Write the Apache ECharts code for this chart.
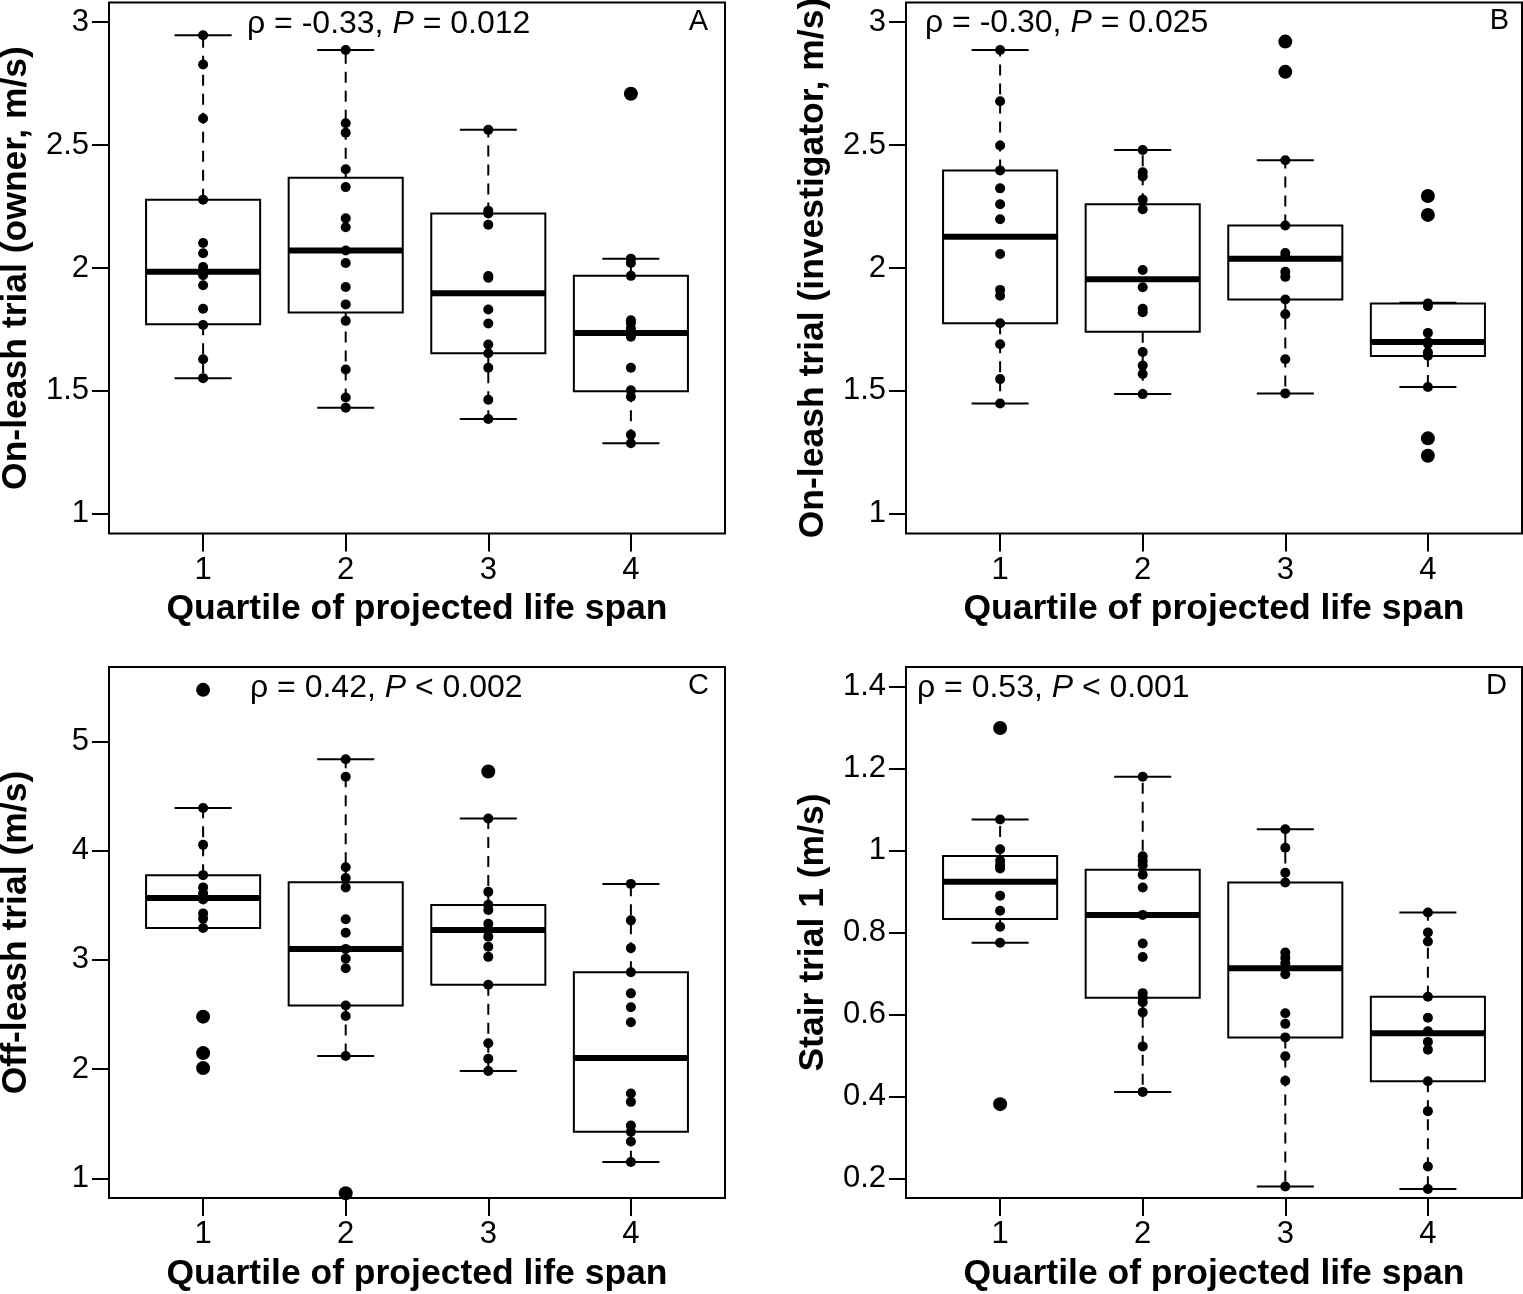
<!DOCTYPE html>
<html>
<head>
<meta charset="utf-8">
<script src="https://cdn.jsdelivr.net/npm/echarts@6/dist/echarts.min.js"></script>
<style>
html,body{margin:0;padding:0;background:#fff;}
#chart{width:1523px;height:1294px;}
</style>
</head>
<body>
<div id="chart"></div>
<script>
// ---------- data ----------
const QUARTILES = [1, 2, 3, 4];
const X_LABEL = 'Quartile of projected life span';

// Panel A: On-leash trial (owner)
const A_q1 = [2.947, 2.828, 2.608, 2.278, 2.102, 2.060, 2.004, 1.985, 1.971, 1.930, 1.834, 1.768, 1.629, 1.552];
const A_q2 = [2.887, 2.589, 2.550, 2.402, 2.329, 2.202, 2.166, 2.071, 2.020, 1.923, 1.852, 1.785, 1.587, 1.473, 1.432];
const A_q3 = [2.562, 2.233, 2.222, 2.176, 1.967, 1.960, 1.831, 1.774, 1.689, 1.653, 1.594, 1.464, 1.386];
const A_q4 = [2.709, 2.038, 2.020, 1.968, 1.787, 1.776, 1.755, 1.736, 1.720, 1.594, 1.503, 1.476, 1.322, 1.287];
// box stats: [lower whisker, Q1, median, Q3, upper whisker]
const A_box = [
  [1.552, 1.771, 1.985, 2.278, 2.947],
  [1.432, 1.819, 2.071, 2.367, 2.887],
  [1.386, 1.653, 1.897, 2.222, 2.562],
  [1.287, 1.499, 1.736, 1.968, 2.038]
];
const A_out = [[4, 2.709]];

// Panel B: On-leash trial (investigator)
const B_q1 = [2.887, 2.678, 2.498, 2.397, 2.324, 2.259, 2.198, 2.057, 1.911, 1.887, 1.775, 1.690, 1.548, 1.449];
const B_q2 = [2.480, 2.389, 2.372, 2.278, 2.239, 1.992, 1.922, 1.834, 1.820, 1.658, 1.603, 1.569, 1.487];
const B_q3 = [2.921, 2.798, 2.438, 2.173, 2.061, 2.047, 1.985, 1.964, 1.872, 1.812, 1.629, 1.490];
const B_q4 = [2.293, 2.216, 1.856, 1.845, 1.736, 1.699, 1.692, 1.657, 1.643, 1.516, 1.307, 1.236];
const B_box = [
  [1.449, 1.775, 2.127, 2.397, 2.887],
  [1.487, 1.741, 1.954, 2.259, 2.480],
  [1.490, 1.872, 2.038, 2.173, 2.438],
  [1.516, 1.642, 1.699, 1.856, 1.859]
];
const B_out = [[3, 2.921], [3, 2.798], [4, 2.293], [4, 2.216], [4, 1.307], [4, 1.236]];

// Panel C: Off-leash trial
const C_q1 = [5.471, 4.389, 4.052, 3.775, 3.663, 3.609, 3.552, 3.425, 3.377, 3.291, 2.480, 2.146, 2.009];
const C_q2 = [4.835, 4.675, 3.848, 3.749, 3.663, 3.371, 3.247, 3.100, 3.011, 2.922, 2.582, 2.486, 2.120, 0.863];
const C_q3 = [4.723, 4.294, 3.622, 3.504, 3.457, 3.329, 3.272, 3.212, 3.119, 3.027, 2.772, 2.237, 2.095, 1.983];
const C_q4 = [3.695, 3.361, 3.107, 2.887, 2.693, 2.566, 2.429, 1.777, 1.700, 1.484, 1.427, 1.337, 1.150];
const C_box = [
  [3.291, 3.291, 3.565, 3.775, 4.389],
  [2.120, 2.582, 3.100, 3.711, 4.835],
  [1.983, 2.772, 3.272, 3.501, 4.294],
  [1.150, 1.427, 2.101, 2.887, 3.695]
];
const C_out = [[1, 5.471], [1, 2.480], [1, 2.146], [1, 2.009], [2, 0.863], [3, 4.723]];

// Panel D: Stair trial 1
const D_q1 = [1.299, 1.076, 1.003, 0.975, 0.964, 0.956, 0.890, 0.853, 0.814, 0.775, 0.381];
const D_q2 = [1.180, 0.986, 0.975, 0.964, 0.941, 0.910, 0.843, 0.773, 0.740, 0.652, 0.641, 0.630, 0.605, 0.522, 0.411];
const D_q3 = [1.052, 1.007, 0.946, 0.922, 0.751, 0.738, 0.725, 0.698, 0.603, 0.577, 0.544, 0.498, 0.438, 0.180];
const D_q4 = [0.849, 0.800, 0.778, 0.643, 0.592, 0.559, 0.533, 0.514, 0.437, 0.364, 0.229, 0.174];
const D_box = [
  [0.775, 0.833, 0.924, 0.987, 1.076],
  [0.411, 0.641, 0.843, 0.953, 1.180],
  [0.180, 0.544, 0.713, 0.922, 1.052],
  [0.174, 0.437, 0.554, 0.643, 0.849]
];
const D_out = [[1, 1.299], [1, 0.381]];

// axis ticks
const TICKS_AB = [1, 1.5, 2, 2.5, 3];
const TICKS_C = [1, 2, 3, 4, 5];
const TICKS_D = [0.2, 0.4, 0.6, 0.8, 1, 1.2, 1.4];

// ---------- layout / style ----------
const FONT = '"Liberation Sans", Arial, Helvetica, sans-serif';
const panels = [
  {grid:{left:109, top:2.5, width:616, height:531}, ylim:[0.92, 3.08], ticks:TICKS_AB,
   ytitle:'On-leash trial (owner, m/s)', groups:[A_q1, A_q2, A_q3, A_q4], box:A_box, out:A_out,
   note:['ρ = -0.33, ', 'P', ' = 0.012'], noteX:247, noteY:32, letter:'A', letterX:708},
  {grid:{left:906, top:2.5, width:616, height:531}, ylim:[0.92, 3.08], ticks:TICKS_AB,
   ytitle:'On-leash trial (investigator, m/s)', groups:[B_q1, B_q2, B_q3, B_q4], box:B_box, out:B_out,
   note:['ρ = -0.30, ', 'P', ' = 0.025'], noteX:925, noteY:31, letter:'B', letterX:1509},
  {grid:{left:109, top:667, width:616, height:531}, ylim:[0.82, 5.68], ticks:TICKS_C,
   ytitle:'Off-leash trial (m/s)', groups:[C_q1, C_q2, C_q3, C_q4], box:C_box, out:C_out,
   note:['ρ = 0.42, ', 'P', ' < 0.002'], noteX:250, noteY:696, letter:'C', letterX:709},
  {grid:{left:906, top:667, width:616, height:531}, ylim:[0.152, 1.448], ticks:TICKS_D,
   ytitle:'Stair trial 1 (m/s)', groups:[D_q1, D_q2, D_q3, D_q4], box:D_box, out:D_out,
   note:['ρ = 0.53, ', 'P', ' < 0.001'], noteX:917, noteY:696, letter:'D', letterX:1507}
];

function renderBox(params, api) {
  const x = api.value(0);
  const lo = api.value(1), q1 = api.value(2), md = api.value(3), q3 = api.value(4), hi = api.value(5);
  const bw = api.size([0.8, 0])[0];
  const cw = api.size([0.4, 0])[0];
  const pLo = api.coord([x, lo]), pQ1 = api.coord([x, q1]), pMd = api.coord([x, md]);
  const pQ3 = api.coord([x, q3]), pHi = api.coord([x, hi]);
  const cx = pMd[0];
  const solid = {stroke:'#000', lineWidth:2, fill:null};
  const dashed = {stroke:'#000', lineWidth:2, lineDash:[11, 8], fill:null};
  return {
    type:'group',
    children:[
      {type:'line', shape:{x1:cx, y1:pQ3[1], x2:cx, y2:pHi[1]}, style:dashed},
      {type:'line', shape:{x1:cx, y1:pQ1[1], x2:cx, y2:pLo[1]}, style:dashed},
      {type:'line', shape:{x1:cx - cw/2, y1:pHi[1], x2:cx + cw/2, y2:pHi[1]}, style:solid},
      {type:'line', shape:{x1:cx - cw/2, y1:pLo[1], x2:cx + cw/2, y2:pLo[1]}, style:solid},
      {type:'rect', shape:{x:cx - bw/2, y:pQ3[1], width:bw, height:pQ1[1] - pQ3[1]},
       style:{stroke:'#000', lineWidth:2, fill:'rgba(0,0,0,0)'}},
      {type:'line', shape:{x1:cx - bw/2, y1:pMd[1], x2:cx + bw/2, y2:pMd[1]},
       style:{stroke:'#000', lineWidth:6, fill:null}}
    ]
  };
}

const grids = [], xAxes = [], yAxes = [], series = [], graphics = [];
panels.forEach((p, i) => {
  grids.push(Object.assign({show:true, borderColor:'#000', borderWidth:2, backgroundColor:'transparent',
                            containLabel:false, outerBoundsMode:'none'}, p.grid));
  xAxes.push({
    type:'value', gridIndex:i, min:0.34, max:4.66,
    axisLine:{show:false},
    axisTick:{show:true, length:18, lineStyle:{color:'#000', width:2}, customValues:QUARTILES},
    axisLabel:{show:true, customValues:QUARTILES, color:'#000', fontSize:31, fontFamily:FONT, margin:21},
    splitLine:{show:false},
    name:X_LABEL, nameLocation:'middle', nameGap:58,
    nameTextStyle:{color:'#000', fontSize:35.5, fontWeight:'bold', fontFamily:FONT}
  });
  yAxes.push({
    type:'value', gridIndex:i, min:p.ylim[0], max:p.ylim[1],
    axisLine:{show:false},
    axisTick:{show:true, length:17, lineStyle:{color:'#000', width:2}, customValues:p.ticks},
    axisLabel:{show:true, customValues:p.ticks, color:'#000', fontSize:31, fontFamily:FONT, margin:20},
    splitLine:{show:false},
    name:p.ytitle, nameLocation:'middle', nameGap:75,
    nameTextStyle:{color:'#000', fontSize:35.5, fontWeight:'bold', fontFamily:FONT}
  });
  series.push({
    type:'custom', xAxisIndex:i, yAxisIndex:i, silent:true,
    renderItem:renderBox,
    encode:{x:0, y:[1, 2, 3, 4, 5]},
    data:p.box.map((s, k) => [QUARTILES[k]].concat(s)),
    z:2
  });
  series.push({
    type:'scatter', xAxisIndex:i, yAxisIndex:i, silent:true,
    symbol:'circle', symbolSize:14, itemStyle:{color:'#000', opacity:1},
    data:p.out, z:3
  });
  const pts = [];
  p.groups.forEach((g, k) => g.forEach(v => pts.push([QUARTILES[k], v])));
  series.push({
    type:'scatter', xAxisIndex:i, yAxisIndex:i, silent:true,
    symbol:'circle', symbolSize:10, itemStyle:{color:'#000', opacity:1},
    data:pts, z:4
  });
  const fs = 32;
  graphics.push({
    type:'text', left:p.noteX, top:p.noteY - 0.76 * fs, silent:true,
    style:{
      text:'{n|' + p.note[0] + '}{i|' + p.note[1] + '}{n|' + p.note[2] + '}',
      rich:{
        n:{fontSize:fs, fontFamily:FONT, fill:'#000', color:'#000'},
        i:{fontSize:fs, fontFamily:FONT, fontStyle:'italic', fill:'#000', color:'#000'}
      }
    }
  });
  graphics.push({
    type:'text', silent:true,
    style:{text:p.letter, x:p.letterX, y:p.noteY - 0.36 * 29, align:'right', verticalAlign:'middle',
           fontSize:29, fontFamily:FONT, fill:'#000'}
  });
});

const chart = echarts.init(document.getElementById('chart'), null, {renderer:'canvas'});
chart.setOption({
  animation:false,
  backgroundColor:'#fff',
  grid:grids, xAxis:xAxes, yAxis:yAxes, series:series, graphic:graphics
});
</script>
</body>
</html>
